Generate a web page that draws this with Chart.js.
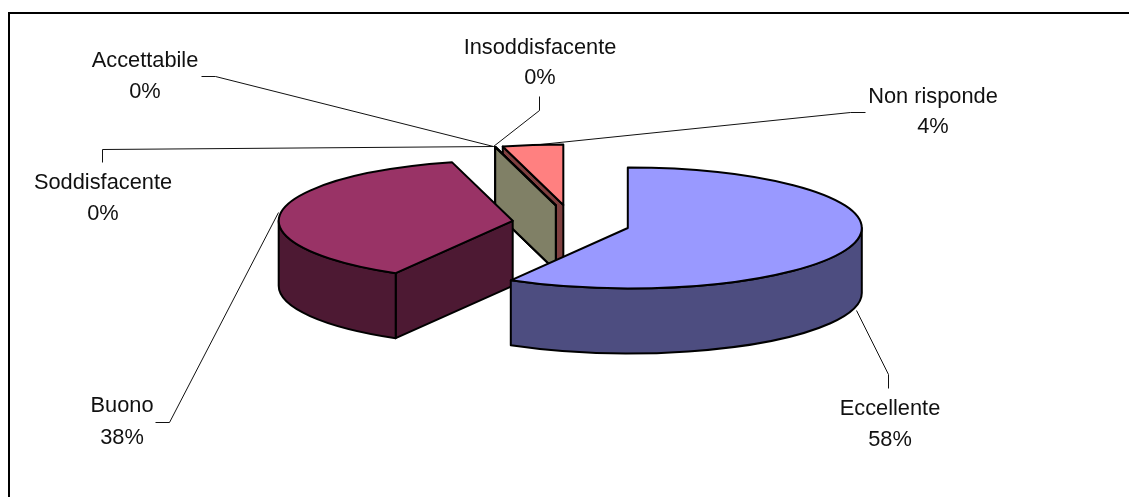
<!DOCTYPE html>
<html><head><meta charset="utf-8">
<script src="https://cdn.jsdelivr.net/npm/chart.js@4"></script>
<style>html,body{margin:0;padding:0;background:#fff;overflow:hidden}canvas{display:block}</style>
</head><body><div style="width:1129px;height:497px"><canvas id="c"></canvas></div>
<script>
const categories = ['Eccellente','Buono','Soddisfacente','Accettabile','Insoddisfacente','Non risponde'];
const counts = [14, 9, 0, 0, 0, 1];
const percentLabels = ['58%','38%','0%','0%','0%','4%'];
const topColors = ['#9999FF','#993366','#FFFFCC','#CCFFFF','#660066','#FF8080'];
const wallColors = ['#4D4D80','#4D1933','#808066','#668080','#330033','#804040'];

const RADIUS = 234, EXPLODE = 58.8, SQUASH = 60.5/234, EXPLODE_SQUASH = 0.313, DEPTH = 65;
const CX = 571, CY = 223.2;
const FONT = '21.8px "Liberation Sans", Arial, sans-serif';
// painter's order, back to front
const drawOrder = [5, 4, 3, 2, 1, 0];
// label layout: text centre x, baseline y of first line, second line; leader bends
const labelLayout = [
  {x:890, y:415, y2:446, leader:[[888,374],[888,388]], rim:[856,310]},
  {x:122, y:412, y2:444, leader:[[169,422],[155,422]], rim:[278,212]},
  {x:103, y:189, y2:220, leader:[[102,149],[102,162]], rim:[493,146]},
  {x:145, y:67,  y2:98,  leader:[[215,76],[201,76]],  rim:[493,146]},
  {x:540, y:54,  y2:84,  leader:[[539,110],[539,96]], rim:[493,146]},
  {x:933, y:103, y2:133, leader:[[850,112],[865,112]], rim:[530,145]}
];

function arcInfo(el){
  const p = el.getProps(['x','y','startAngle','endAngle','outerRadius']);
  const mid=(p.startAngle+p.endAngle)/2;
  const dx = Math.cos(mid)*EXPLODE, dy = Math.sin(mid)*EXPLODE*EXPLODE_SQUASH;
  return {...p, R:p.outerRadius, mid, dx, dy, ax:p.x+dx, ay:p.y+dy};
}
function facePoly(ctx, pts){
  ctx.beginPath();
  pts.forEach((q,i)=> i?ctx.lineTo(q[0],q[1]):ctx.moveTo(q[0],q[1]));
  ctx.closePath(); ctx.fill(); ctx.stroke();
}
function drawWalls(ctx, a, color){
  ctx.fillStyle=color; ctx.strokeStyle='#000'; ctx.lineWidth=2; ctx.lineJoin='round';
  const R=a.R;
  const pt=(t)=>[a.ax+R*Math.cos(t), a.ay+R*SQUASH*Math.sin(t)];
  const radial=(t)=>{const q=pt(t);facePoly(ctx,[[a.ax,a.ay],q,[q[0],q[1]+DEPTH],[a.ax,a.ay+DEPTH]]);};
  if(Math.sin(a.startAngle-Math.PI/2)>1e-6) radial(a.startAngle);
  if(Math.sin(a.endAngle+Math.PI/2)>1e-6) radial(a.endAngle);
  const s=Math.max(a.startAngle,0), e=Math.min(a.endAngle,Math.PI);
  if(e>s){
    ctx.beginPath();
    ctx.ellipse(a.ax,a.ay,R,R*SQUASH,0,s,e);
    ctx.ellipse(a.ax,a.ay+DEPTH,R,R*SQUASH,0,e,s,true);
    ctx.closePath(); ctx.fill(); ctx.stroke();
  }
}
function topOutline(ctx,a){
  const R=a.R;
  ctx.strokeStyle='#000'; ctx.lineWidth=2; ctx.lineJoin='round';
  ctx.beginPath();
  ctx.moveTo(a.ax,a.ay);
  ctx.ellipse(a.ax,a.ay,R,R*SQUASH,0,a.startAngle,a.endAngle);
  ctx.closePath(); ctx.stroke();
}
const pie3d = {
  id:'pie3d',
  beforeDraw(chart){
    const ctx=chart.ctx;
    ctx.save();
    ctx.fillStyle='#fff'; ctx.fillRect(0,0,chart.width,chart.height);
    ctx.strokeStyle='#000'; ctx.lineWidth=2;
    ctx.beginPath(); ctx.moveTo(9,chart.height); ctx.lineTo(9,13); ctx.lineTo(chart.width,13); ctx.stroke();
    ctx.restore();
  },
  beforeDatasetsDraw(chart){
    const ctx=chart.ctx, meta=chart.getDatasetMeta(0);
    ctx.save();
    ctx.strokeStyle='#111'; ctx.lineWidth=1;
    labelLayout.forEach(l=>{
      ctx.beginPath(); ctx.moveTo(l.rim[0]+.5,l.rim[1]+.5);
      l.leader.forEach(q=>ctx.lineTo(q[0]+.5,q[1]+.5)); ctx.stroke();
    });
    ctx.restore();
    drawOrder.forEach(i=>{
      const el=meta.data[i], a=arcInfo(el);
      ctx.save(); drawWalls(ctx,a,wallColors[i]); ctx.restore();
      ctx.save();
      ctx.translate(a.ax,a.ay); ctx.scale(1,SQUASH); ctx.translate(-a.x,-a.y);
      el.draw(ctx);
      ctx.restore();
      ctx.save(); topOutline(ctx,a); ctx.restore();
    });
    return false;
  },
  afterDraw(chart){
    const ctx=chart.ctx;
    ctx.save();
    ctx.fillStyle='#111'; ctx.font=FONT; ctx.textAlign='center'; ctx.textBaseline='alphabetic';
    categories.forEach((c,i)=>{
      const l=labelLayout[i];
      ctx.fillText(c,l.x,l.y);
      ctx.fillText(percentLabels[i],l.x,l.y2);
    });
    ctx.restore();
  }
};
new Chart(document.getElementById('c'),{
  type:'pie',
  data:{labels:categories,datasets:[{data:counts,backgroundColor:topColors,borderWidth:0,offset:0,clip:false,hoverOffset:0}]},
  options:{
    responsive:true,maintainAspectRatio:false,animation:false,
    radius:RADIUS,
    events:[],
    layout:{padding:{left:2*CX-1129,top:0,right:0,bottom:497-2*CY}},
    plugins:{legend:{display:false},tooltip:{enabled:false},title:{display:false}}
  },
  plugins:[pie3d]
});
</script></body></html>
